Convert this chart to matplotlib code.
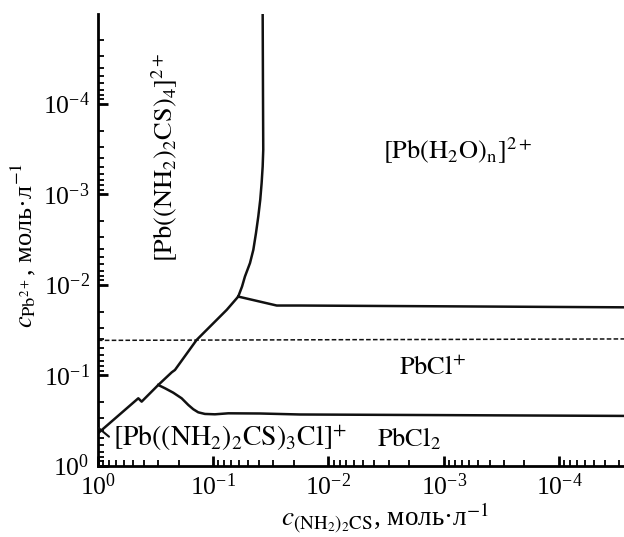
import numpy as np
import matplotlib
matplotlib.use('Agg')
import matplotlib.pyplot as plt
from matplotlib.ticker import NullFormatter

plt.rcParams['font.family'] = ['Liberation Serif', 'DejaVu Serif']
plt.rcParams['mathtext.fontset'] = 'stix'

# ---- данные (lg c) ----
# главная граница: от левого края до точки излома
main_lx = [0.0, -0.350, -0.379, -0.523, -0.640, -0.668, -0.856, -1.117, -1.217]
main_ly = [-0.356, -0.743, -0.706, -0.890, -1.030, -1.056, -1.388, -1.720, -1.867]

# почти вертикальная ветвь вверх от точки излома
vert_lx = [-1.217, -1.250, -1.275, -1.319, -1.348, -1.371, -1.391, -1.408,
           -1.420, -1.429, -1.434, -1.432, -1.429]
vert_ly = [-1.867, -1.978, -2.088, -2.237, -2.384, -2.569, -2.752, -2.937,
           -3.122, -3.305, -3.490, -4.040, -5.000]

# ветвь вправо от излома ([Pb(H2O)n]2+ / PbCl+)
right_lx = [-1.217, -1.551, -1.753, -3.054, -4.600]
right_ly = [-1.867, -1.768, -1.768, -1.759, -1.748]

# нижняя граница (PbCl+ / PbCl2)
low_lx = [-0.523, -0.581, -0.653, -0.726, -0.784, -0.827, -0.870, -0.928,
          -1.015, -1.131, -1.406, -1.753, -4.600]
low_ly = [-0.890, -0.854, -0.805, -0.743, -0.669, -0.622, -0.588, -0.570,
          -0.566, -0.577, -0.575, -0.564, -0.548]

# пунктир
dash_lx = [0.0, -4.600]
dash_ly = [-1.383, -1.399]

fig = plt.figure(figsize=(6.24, 5.37), dpi=100)
ax = fig.add_axes([0.157, 0.1331, 0.843, 0.8409])

lw = 1.8
for lx, ly in [(main_lx, main_ly), (vert_lx, vert_ly),
               (right_lx, right_ly), (low_lx, low_ly)]:
    ax.plot(10 ** np.array(lx), 10 ** np.array(ly), color='#111111', lw=lw,
            solid_joinstyle='round')
ax.plot(10 ** np.array(dash_lx), 10 ** np.array(dash_ly), color='#111111',
        lw=1.1, ls=(0, (3, 1.5)))

ax.set_xscale('log')
ax.set_yscale('log')
ax.set_xlim(1.0, 10 ** -4.564)
ax.set_ylim(1.0, 10 ** -4.99)
ax.set_xticks([1, 1e-1, 1e-2, 1e-3, 1e-4])
ax.set_yticks([1, 1e-1, 1e-2, 1e-3, 1e-4])
ax.xaxis.set_minor_formatter(NullFormatter())
ax.yaxis.set_minor_formatter(NullFormatter())

for s in ['top', 'right']:
    ax.spines[s].set_visible(False)
for s in ['left', 'bottom']:
    ax.spines[s].set_linewidth(2.0)

ax.tick_params(which='major', direction='in', length=7, width=2.0,
               labelsize=18.5, pad=6)
ax.tick_params(which='minor', direction='in', length=4, width=1.3)

ax.set_xlabel(r'$c_{\mathrm{(NH_2)_2CS}}$, моль·л$^{-1}$', fontsize=19.5)
ax.xaxis.set_label_coords(0.546, -0.078)
ax.set_ylabel(r'$c_{\mathrm{Pb}^{2+}}$, моль·л$^{-1}$', fontsize=19)
ax.yaxis.set_label_coords(-0.114, 0.488)

# ---- подписи областей ----
fs = 19
ax.text(10 ** -0.58, 10 ** -3.41, r'$[\mathrm{Pb((NH_2)_2CS)_4}]^{2+}$',
        rotation=90, ha='center', va='center', fontsize=fs)
ax.text(10 ** -3.12, 10 ** -3.48, r'$[\mathrm{Pb(H_2O)_n}]^{2+}$',
        ha='center', va='center', fontsize=fs)
ax.text(10 ** -2.90, 10 ** -1.08, r'$\mathrm{PbCl}^{+}$',
        ha='center', va='center', fontsize=fs)
ax.text(10 ** -2.70, 10 ** -0.30, r'$\mathrm{PbCl_2}$',
        ha='center', va='center', fontsize=fs)
ax.annotate(r'$[\mathrm{Pb((NH_2)_2CS)_3Cl}]^{+}$',
            xy=(10 ** -0.005, 10 ** -0.415), xytext=(10 ** -1.145, 10 ** -0.30),
            ha='center', va='center', fontsize=20, annotation_clip=False,
            arrowprops=dict(arrowstyle='-', color='#111111', lw=1.5,
                            shrinkA=1, shrinkB=0,
                            relpos=(0.0, 0.45)))

fig.savefig('out.png', dpi=100)
